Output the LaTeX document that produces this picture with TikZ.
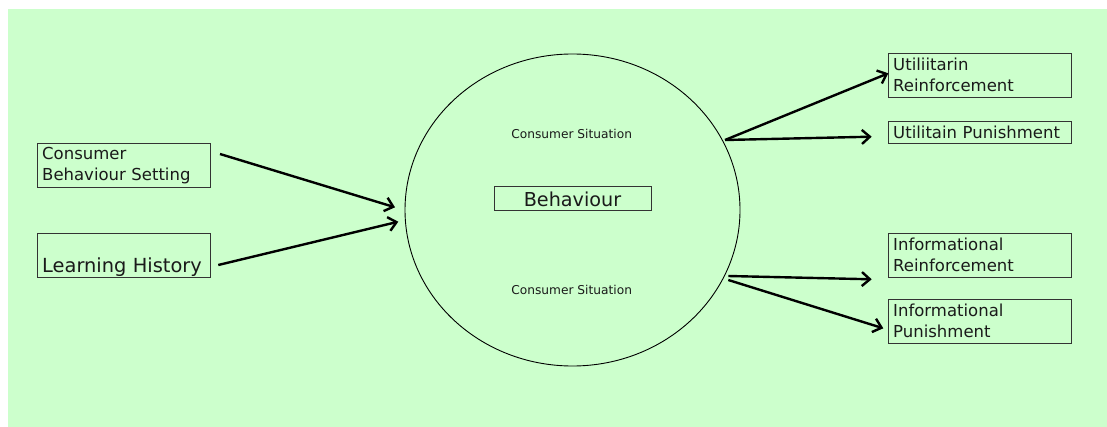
\documentclass[tikz,border=0pt]{standalone}
\usepackage{fontspec}
\setmainfont{DejaVu Sans}
\usetikzlibrary{arrows.meta,shapes.geometric}
\definecolor{bg}{HTML}{CCFFCC}
\definecolor{ink}{HTML}{1A1A1A}
\definecolor{frame}{HTML}{333333}
\begin{document}
\begin{tikzpicture}[x=1pt,y=-1pt,
  lbl/.style={draw=frame, line width=1pt, inner xsep=5pt, inner ysep=0pt,
    anchor=north west, align=left, text=ink, minimum height=44pt,
    text width=173pt, font=\fontsize{16.5}{21}\selectfont},
  rlbl/.style={lbl, text width=173pt},
  small/.style={text=ink, anchor=base, inner sep=0pt, font=\fontsize{12.2}{14}\selectfont},
  arr/.style={line width=2.4pt, -{Straight Barb[length=8pt,width=14pt]}}]
\useasboundingbox (0,0) rectangle (1107,427);
\fill[bg] (8,9) rectangle (1107,427);

% situation circle
\node[draw, ellipse, line width=0.9pt, minimum width=335pt, minimum height=312pt, inner sep=0pt] (sit) at (572.5,210) {};
\node[small] (cs1) at (571.7,138.3) {Consumer Situation};
\node[small] (cs2) at (571.7,294.3) {Consumer Situation};
\node[draw=frame, line width=1pt, text=ink, minimum width=157pt, minimum height=24pt, inner sep=0pt,
  font=\fontsize{19.2}{22}\selectfont] (beh) at (572.5,199) {Behaviour};

% left boxes
\node[lbl, text width=163pt] (cbs) at (36.7,142.7) {Consumer\\Behaviour Setting};
\node[draw=frame, line width=1pt, inner xsep=5pt, inner ysep=0pt, anchor=north west, align=left,
  text=ink, text width=163pt, text height=39pt, text depth=5pt,
  font=\fontsize{19.4}{22}\selectfont] (lh) at (36.7,232.7) {Learning History};

% right boxes
\node[lbl] (ur) at (887.7,52.7) {Utiliitarin\\Reinforcement};
\node[draw=frame, line width=1pt, inner xsep=5pt, inner ysep=0pt, anchor=north west, align=left,
  text=ink, text width=173pt, minimum height=22.6pt,
  font=\fontsize{16.5}{21}\selectfont] (up) at (887.7,120.7) {Utilitain Punishment};
\node[lbl] (ir) at (887.7,232.7) {Informational\\Reinforcement};
\node[lbl] (ip) at (887.7,298.7) {Informational\\Punishment};

% connector end points
\coordinate (a1s) at (220,154);
\coordinate (a1e) at (395,207.3);
\coordinate (a2s) at (218.3,265);
\coordinate (a2e) at (398.3,221.7);
\coordinate (r1s) at (725,140);
\coordinate (r1e) at (888.3,73.3);
\coordinate (r2e) at (871.7,136.7);
\coordinate (r3s) at (728.3,276);
\coordinate (r3e) at (871.7,279.3);
\coordinate (r4s) at (728.3,280);
\coordinate (r4e) at (883.3,328.3);

\draw[arr] (a1s) -- (a1e);
\draw[arr] (a2s) -- (a2e);
\draw[arr] (r1s) -- (r1e);
\draw[arr] (r1s) -- (r2e);
\draw[arr] (r3s) -- (r3e);
\draw[arr] (r4s) -- (r4e);
\end{tikzpicture}
\end{document}
